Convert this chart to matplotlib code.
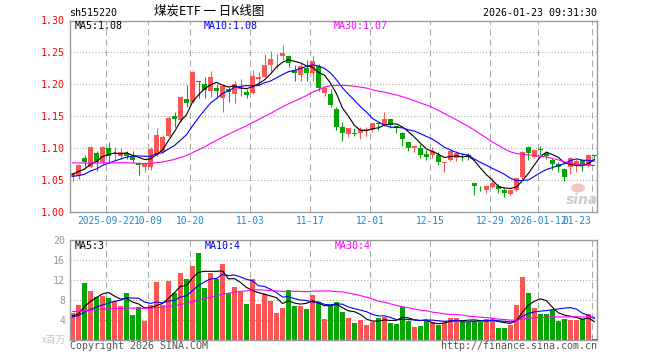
import matplotlib
matplotlib.use("Agg")
import matplotlib.pyplot as plt
from matplotlib.patches import Ellipse
import pandas as pd

# daily candles, 2025-09-12 .. 2026-01-23 (88 sessions)
opens = [1.055, 1.058, 1.085, 1.071, 1.092, 1.079, 1.101, 1.091, 1.088, 1.092,
         1.087, 1.077, 1.071, 1.071, 1.089, 1.094, 1.119, 1.150, 1.144, 1.177,
         1.172, 1.206, 1.201, 1.190, 1.195, 1.178, 1.193, 1.185, 1.193, 1.188,
         1.186, 1.208, 1.212, 1.230, 1.239, 1.244, 1.244, 1.222, 1.214, 1.226,
         1.217, 1.228, 1.187, 1.185, 1.162, 1.133, 1.122, 1.123, 1.123, 1.128,
         1.129, 1.140, 1.136, 1.145, 1.134, 1.124, 1.110, 1.101, 1.100, 1.091,
         1.089, 1.090, 1.077, 1.081, 1.085, 1.088, 1.089, 1.045, 1.0395, 1.034,
         1.039, 1.041, 1.035, 1.028, 1.034, 1.055, 1.102, 1.086, 1.0985, 1.093,
         1.082, 1.075, 1.068, 1.070, 1.074, 1.081, 1.072, 1.089]
highs = [1.062, 1.075, 1.089, 1.103, 1.095, 1.103, 1.110, 1.102, 1.100, 1.095,
         1.095, 1.078, 1.078, 1.102, 1.132, 1.120, 1.150, 1.156, 1.181, 1.199,
         1.221, 1.206, 1.211, 1.221, 1.201, 1.201, 1.196, 1.206, 1.209, 1.193,
         1.222, 1.219, 1.247, 1.252, 1.247, 1.261, 1.246, 1.231, 1.233, 1.238,
         1.244, 1.232, 1.198, 1.193, 1.164, 1.141, 1.131, 1.131, 1.133, 1.133,
         1.139, 1.141, 1.157, 1.145, 1.134, 1.125, 1.110, 1.104, 1.106, 1.097,
         1.102, 1.094, 1.078, 1.097, 1.095, 1.093, 1.093, 1.046, 1.041, 1.042,
         1.053, 1.044, 1.037, 1.035, 1.054, 1.096, 1.104, 1.098, 1.104, 1.094,
         1.084, 1.078, 1.069, 1.086, 1.083, 1.081, 1.091, 1.089]
lows = [1.049, 1.051, 1.070, 1.070, 1.064, 1.075, 1.077, 1.080, 1.083, 1.083,
        1.078, 1.058, 1.063, 1.066, 1.088, 1.093, 1.118, 1.133, 1.141, 1.165,
        1.170, 1.178, 1.178, 1.180, 1.178, 1.157, 1.172, 1.171, 1.181, 1.178,
        1.185, 1.198, 1.211, 1.219, 1.225, 1.238, 1.227, 1.206, 1.205, 1.206,
        1.205, 1.189, 1.182, 1.164, 1.129, 1.112, 1.118, 1.119, 1.115, 1.119,
        1.126, 1.128, 1.134, 1.131, 1.123, 1.104, 1.096, 1.094, 1.085, 1.082,
        1.084, 1.073, 1.063, 1.080, 1.080, 1.080, 1.082, 1.027, 1.0335, 1.029,
        1.037, 1.029, 1.024, 1.027, 1.033, 1.051, 1.081, 1.084, 1.089, 1.083,
        1.066, 1.063, 1.049, 1.060, 1.062, 1.064, 1.070, 1.084]
closes = [1.061, 1.074, 1.079, 1.102, 1.078, 1.102, 1.088, 1.093, 1.094, 1.087,
          1.081, 1.074, 1.075, 1.099, 1.120, 1.118, 1.148, 1.145, 1.180, 1.171,
          1.219, 1.203, 1.191, 1.212, 1.190, 1.198, 1.188, 1.201, 1.195, 1.184,
          1.213, 1.212, 1.231, 1.240, 1.240, 1.249, 1.233, 1.218, 1.228, 1.217,
          1.237, 1.194, 1.195, 1.167, 1.133, 1.124, 1.131, 1.122, 1.130, 1.130,
          1.139, 1.138, 1.145, 1.137, 1.131, 1.115, 1.100, 1.103, 1.089, 1.086,
          1.096, 1.078, 1.078, 1.096, 1.092, 1.087, 1.086, 1.040, 1.0385, 1.040,
          1.045, 1.036, 1.029, 1.034, 1.053, 1.094, 1.093, 1.097, 1.097, 1.088,
          1.075, 1.070, 1.055, 1.084, 1.080, 1.073, 1.089, 1.087]
# volume, millions of shares
volumes = [5.4, 7.1, 11.5, 9.9, 8.7, 8.9, 8.5, 7.9, 6.9, 9.5,
           5.1, 6.7, 3.9, 7.1, 11.7, 7.1, 11.9, 9.5, 13.5, 12.3,
           14.9, 17.5, 10.5, 13.5, 12.3, 15.3, 9.5, 10.7, 9.7, 7.3,
           12.3, 7.3, 9.3, 7.9, 5.5, 6.5, 10.1, 6.9, 6.9, 6.3,
           9.1, 7.7, 4.3, 6.9, 7.7, 5.7, 4.5, 3.5, 4.1, 3.1,
           3.7, 4.5, 4.7, 3.5, 3.3, 6.7, 3.9, 2.7, 2.9, 3.9,
           3.7, 3.1, 3.5, 4.5, 4.5, 3.7, 3.7, 3.7, 3.7, 4.3,
           4.3, 2.5, 2.5, 3.1, 7.1, 12.7, 9.5, 6.5, 5.3, 5.3,
           6.1, 3.9, 4.3, 4.1, 4.1, 4.3, 5.3, 0.3]

# sessions before the window, only used so the moving averages start where the picture does
prior_closes = [1.080, 1.085, 1.090, 1.088, 1.092, 1.095, 1.090, 1.086, 1.089, 1.093,
                1.091, 1.087, 1.084, 1.088, 1.090, 1.086, 1.083, 1.087, 1.085, 1.082,
                1.065, 1.058, 1.050, 1.046, 1.047, 1.052, 1.060, 1.064, 1.058]
prior_volumes = [5.8, 6.5, 7.2, 6.0, 5.5, 6.8, 7.0, 6.1, 5.9, 6.4,
                 6.6, 5.7, 6.2, 6.9, 5.8, 6.0, 6.3, 5.6, 6.1, 5.6,
                 4.8, 4.2, 4.6, 4.3, 4.6, 4.9, 4.3, 4.6, 4.8]

tick_pos = [6, 13, 20, 30, 40, 50, 60, 70, 78, 87]
tick_labels = ["2025-09-22", "10-09", "10-20", "11-03", "11-17",
               "12-01", "12-15", "12-29", "2026-01-12", "01-23"]
price_ticks = [1.00, 1.05, 1.10, 1.15, 1.20, 1.25, 1.30]
vol_ticks = [4, 8, 12, 16, 20]

RED = "#fc5555"
GREEN = "#04a604"
GRID = "#aaaaaa"
FRAME = "#999999"
TICKBLUE = "#1b8ad6"

plt.rcParams["font.family"] = ["DejaVu Sans Mono", "Noto Sans CJK SC"]
W, H = 660, 360
fig = plt.figure(figsize=(W / 100, H / 100), dpi=100)


def px_axes(left, top, right, bottom):
    return fig.add_axes([left / W, 1 - bottom / H, (right - left) / W, (bottom - top) / H])


def px_text(x, y, s, **kw):
    kw.setdefault("va", "center")
    kw.setdefault("fontsize", 7.2)
    fig.text(x / W, 1 - y / H, s, **kw)


ax = px_axes(70, 20.5, 597, 212)
axv = px_axes(70, 240, 597, 340)

n = len(closes)
x = list(range(n))
colors = [RED if c >= o else GREEN for o, c in zip(opens, closes)]

# candles
ax.vlines(x, lows, highs, colors=colors, lw=0.75)
bottoms = [min(o, c) for o, c in zip(opens, closes)]
heights = [max(abs(c - o), 0.0008) for o, c in zip(opens, closes)]
ax.bar(x, heights, bottom=bottoms, width=0.82, color=colors, lw=0)

ma_styles = [(5, "black"), (10, "blue"), (30, "magenta")]
cs = pd.Series(prior_closes + closes)
vs = pd.Series(prior_volumes + volumes)
for w, col in ma_styles:
    ax.plot(x, cs.rolling(w).mean().iloc[-n:].values, color=col, lw=0.8)

axv.bar(x, volumes, width=0.82, color=colors, lw=0)
for w, col in ma_styles:
    axv.plot(x, vs.rolling(w).mean().iloc[-n:].values, color=col, lw=0.8)

for a in (ax, axv):
    a.set_xlim(-0.42, n - 0.58)
    a.set_xticks([])
    for p in tick_pos:
        a.axvline(p - 0.4, color=GRID, lw=0.75, ls=(0, (6, 4)), zorder=0)
    for s in a.spines.values():
        s.set_color(FRAME)
        s.set_linewidth(1.0)
    a.tick_params(axis="y", length=0, pad=3.5, labelsize=7.2)

ax.set_ylim(price_ticks[0], price_ticks[-1])
ax.set_yticks(price_ticks)
ax.set_yticklabels([f"{v:.2f}" for v in price_ticks])
ax.tick_params(axis="y", labelcolor="red")
for v in price_ticks[1:-1]:
    ax.axhline(v, color=GRID, lw=0.75, ls=(0, (1, 2)), zorder=0)

axv.set_ylim(0, 20)
axv.set_yticks(vol_ticks)
axv.set_yticklabels([str(v) for v in vol_ticks])
axv.tick_params(axis="y", labelcolor="#999999")
for v in vol_ticks[:-1]:
    axv.axhline(v, color=GRID, lw=0.75, ls=(0, (1, 2)), zorder=0)

# date labels under the price panel (the last one is pulled in to stay inside the frame)
tr = ax.get_xaxis_transform()
for p, lab in zip(tick_pos[:-1], tick_labels[:-1]):
    ax.text(p - 0.4, -0.047, lab, transform=tr, ha="center", va="center",
            fontsize=6.9, color=TICKBLUE)
ax.text(86.4, -0.047, tick_labels[-1], transform=tr, ha="right", va="center",
        fontsize=6.9, color=TICKBLUE)

# header
px_text(69, 13.5, "sh515220")
px_text(209.5, 11.5, "煤炭ETF 一 日K线图", ha="center", fontsize=9,
        family=["Noto Sans CJK SC", "DejaVu Sans"])
px_text(597, 13.5, "2026-01-23 09:31:30", ha="right")

px_text(75, 26, "MA5:1.08", color="black")
px_text(204, 26, "MA10:1.08", color="blue")
px_text(334, 26, "MA30:1.07", color="magenta")

px_text(75, 246, "MA5:3", color="black")
px_text(205, 246, "MA10:4", color="blue")
px_text(335, 246, "MA30:4", color="magenta")

px_text(66, 340, "x百万", ha="right", fontsize=7, color="#c4c4c4",
        family=["Noto Sans CJK SC", "DejaVu Sans"])
px_text(70, 346, "Copyright 2026 SINA.COM", color="#555555")
px_text(597, 346, "http://finance.sina.com.cn", ha="right", color="#555555")

# sina watermark
fig.patches.append(Ellipse((578 / W, 1 - 188 / H), 14 / W, 9 / H,
                           transform=fig.transFigure, color="#f5c4c4", lw=0))
px_text(582, 200, "sina", ha="center", fontsize=10, color="#cccccc",
        style="italic", weight="bold", family="DejaVu Sans")

fig.savefig("out.png", dpi=100)
